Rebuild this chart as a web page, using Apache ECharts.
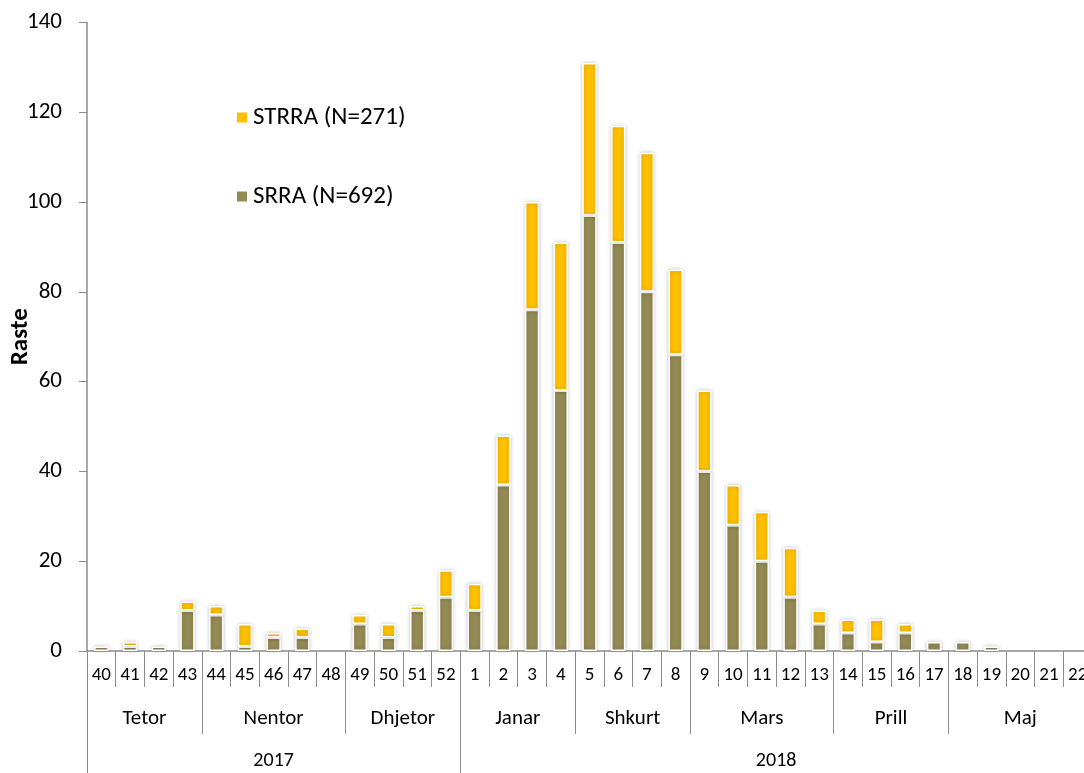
<!DOCTYPE html>
<html>
<head>
<meta charset="utf-8">
<script src="https://cdn.jsdelivr.net/npm/echarts@6/dist/echarts.min.js"></script>
<style>
html,body{margin:0;padding:0;background:#fff;}
#c{width:1084px;height:773px;}
</style>
</head>
<body>
<div id="c"></div>
<script>
var weeks = ['40','41','42','43','44','45','46','47','48','49','50','51','52','1','2','3','4','5','6','7','8','9','10','11','12','13','14','15','16','17','18','19','20','21','22'];
var srra  = [1,1,1,9,8,1,3,3,0,6,3,9,12,9,37,76,58,97,91,80,66,40,28,20,12,6,4,2,4,2,2,1,0,0,0];
var strra = [0,1,0,2,2,5,1,2,0,2,3,1,6,6,11,24,33,34,26,31,19,18,9,11,11,3,3,5,2,0,0,0,0,0,0];
var months = ['Tetor','Nentor','Dhjetor','Janar','Shkurt','Mars','Prill','Maj'];
var monthSizes = [4,5,4,4,4,5,4,5];
var years = ['2017','2018'];
var yearSizes = [13,22];
var yTicks = [0,20,40,60,80,100,120,140];

var FONT = "Carlito, Lato, 'Liberation Sans', sans-serif";
function bounds(sizes){var b=[0],s=0;sizes.forEach(function(n){s+=n;b.push(s);});return b;}
function mids(b){var m=[];for(var i=0;i<b.length-1;i++)m.push((b[i]+b[i+1])/2);return m;}
var mB = bounds(monthSizes), mM = mids(mB);
var yB = bounds(yearSizes), yM = mids(yB);
function nz(a){return a.map(function(v){return v===0?'-':v;});}

var chart = echarts.init(document.getElementById('c'));
var axisGray = '#8c8c8c';
var barStyle = function(c){return {color:c,borderColor:'#fff',borderWidth:1.5,shadowBlur:4,shadowColor:'rgba(0,0,0,0.22)'};};
chart.setOption({
  animation:false,
  textStyle:{fontFamily:FONT},
  grid:{left:87,right:-8,top:22.5,bottom:122,containLabel:false,outerBoundsMode:'none'},
  legend:{
    orient:'vertical',left:230,top:100,itemGap:54,itemWidth:12,itemHeight:12,icon:'rect',
    textStyle:{fontFamily:FONT,fontSize:25,color:'#000'},
    data:['STRRA (N=271)','SRRA (N=692)']
  },
  xAxis:[
    {type:'category',data:weeks,position:'bottom',boundaryGap:true,
     axisLine:{lineStyle:{color:axisGray,width:1.5}},
     axisTick:{show:true,interval:0,length:36,lineStyle:{color:axisGray,width:1}},
     axisLabel:{interval:0,margin:15,fontSize:19,color:'#000',fontFamily:FONT}},
    {type:'value',min:0,max:weeks.length,position:'bottom',offset:36,
     axisLine:{show:false},splitLine:{show:false},
     axisTick:{show:true,length:47,customValues:mB,lineStyle:{color:axisGray,width:1}},
     axisLabel:{customValues:mM,margin:21,fontSize:21,color:'#000',fontFamily:FONT,
       formatter:function(v){var i=mM.indexOf(v);return i>=0?months[i]:'';}}},
    {type:'value',min:0,max:weeks.length,position:'bottom',offset:83,
     axisLine:{show:false},splitLine:{show:false},
     axisTick:{show:true,length:45,customValues:yB,lineStyle:{color:axisGray,width:1}},
     axisLabel:{customValues:yM,margin:17,fontSize:20,color:'#000',fontFamily:FONT,
       formatter:function(v){var i=yM.indexOf(v);return i>=0?years[i]:'';}}}
  ],
  yAxis:{type:'value',min:yTicks[0],max:yTicks[yTicks.length-1],interval:yTicks[1]-yTicks[0],
    name:'Raste',nameLocation:'middle',nameGap:54,nameMoveOverlap:false,
    nameTextStyle:{fontFamily:FONT,fontSize:25,fontWeight:'bold',color:'#000'},
    axisLine:{show:true,lineStyle:{color:axisGray,width:1.5}},
    axisTick:{show:true,length:8,lineStyle:{color:axisGray}},
    splitLine:{show:false},
    axisLabel:{margin:25,fontSize:23,color:'#000',fontFamily:FONT}},
  series:[
    {name:'SRRA (N=692)',type:'bar',stack:'a',xAxisIndex:0,barWidth:'50%',data:nz(srra),itemStyle:barStyle('#948A54')},
    {name:'STRRA (N=271)',type:'bar',stack:'a',xAxisIndex:0,barWidth:'50%',data:nz(strra),itemStyle:barStyle('#FFC000')}
  ]
});
</script>
</body>
</html>
